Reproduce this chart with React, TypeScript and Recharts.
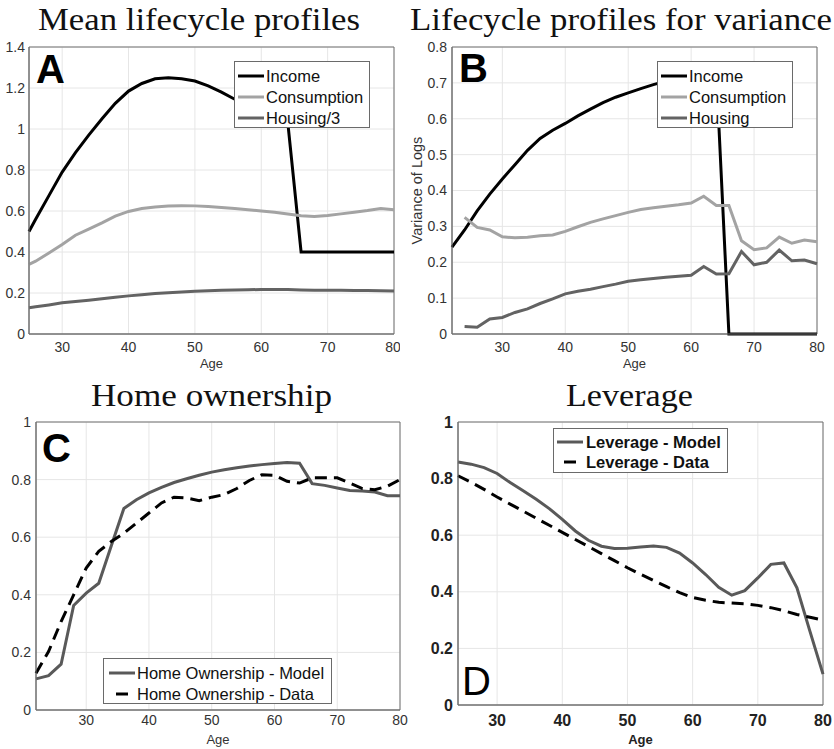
import React from 'react';
import { LineChart, Line, XAxis, YAxis, CartesianGrid, ReferenceArea, Legend } from 'recharts';

// ---------- Panel A: Mean lifecycle profiles ----------
const agesA = [25, 26, 28, 30, 32, 34, 36, 38, 40, 42, 44, 46, 48, 50, 52, 54, 56, 58, 60, 62, 64, 66, 68, 70, 72, 74, 76, 78, 80];
const incomeA = [0.5, 0.56, 0.675, 0.79, 0.885, 0.97, 1.05, 1.125, 1.185, 1.222, 1.245, 1.25, 1.245, 1.234, 1.21, 1.18, 1.145, 1.115, 1.085, 1.055, 1.03, 0.4, 0.4, 0.4, 0.4, 0.4, 0.4, 0.4, 0.4];
const consumptionA = [0.34, 0.355, 0.395, 0.437, 0.482, 0.512, 0.542, 0.575, 0.598, 0.612, 0.62, 0.624, 0.626, 0.625, 0.622, 0.617, 0.612, 0.606, 0.6, 0.594, 0.585, 0.577, 0.573, 0.578, 0.586, 0.594, 0.602, 0.612, 0.606];
const housingA = [0.128, 0.133, 0.142, 0.152, 0.159, 0.165, 0.172, 0.179, 0.186, 0.191, 0.197, 0.201, 0.205, 0.209, 0.211, 0.213, 0.215, 0.216, 0.217, 0.217, 0.217, 0.215, 0.214, 0.214, 0.213, 0.212, 0.212, 0.211, 0.21];
const xTicksA = [30, 40, 50, 60, 70, 80];
const yTicksA = [0, 0.2, 0.4, 0.6, 0.8, 1, 1.2, 1.4];
const legendA = ['Income', 'Consumption', 'Housing/3'];

// ---------- Panel B: Lifecycle profiles for variance ----------
const agesB = [22, 24, 26, 28, 30, 32, 34, 36, 38, 40, 42, 44, 46, 48, 50, 52, 54, 56, 58, 60, 62, 64, 66, 68, 70, 72, 74, 76, 78, 80];
const incomeB = [0.242, 0.29, 0.343, 0.39, 0.432, 0.472, 0.512, 0.545, 0.568, 0.587, 0.608, 0.627, 0.645, 0.66, 0.672, 0.684, 0.695, 0.705, 0.713, 0.72, 0.726, 0.73, 0, 0, 0, 0, 0, 0, 0, 0];
const consumptionB = [null, 0.325, 0.297, 0.29, 0.271, 0.268, 0.27, 0.274, 0.276, 0.286, 0.299, 0.311, 0.321, 0.33, 0.339, 0.347, 0.352, 0.356, 0.36, 0.365, 0.384, 0.358, 0.358, 0.26, 0.235, 0.24, 0.27, 0.253, 0.262, 0.257];
const housingB = [null, 0.021, 0.019, 0.042, 0.046, 0.06, 0.07, 0.085, 0.098, 0.112, 0.119, 0.125, 0.132, 0.139, 0.147, 0.151, 0.155, 0.158, 0.161, 0.164, 0.188, 0.167, 0.168, 0.23, 0.193, 0.2, 0.234, 0.204, 0.206, 0.196];
const xTicksB = [30, 40, 50, 60, 70, 80];
const yTicksB = [0, 0.1, 0.2, 0.3, 0.4, 0.5, 0.6, 0.7, 0.8];
const legendB = ['Income', 'Consumption', 'Housing'];

// ---------- Panel C: Home ownership ----------
const agesC = [22, 24, 26, 28, 30, 32, 34, 36, 38, 40, 42, 44, 46, 48, 50, 52, 54, 56, 58, 60, 62, 64, 66, 68, 70, 72, 74, 76, 78, 80];
const ownModelC = [0.108, 0.119, 0.159, 0.363, 0.406, 0.44, 0.57, 0.7, 0.73, 0.754, 0.773, 0.79, 0.803, 0.815, 0.826, 0.834, 0.841, 0.847, 0.852, 0.856, 0.859, 0.857, 0.786, 0.78, 0.771, 0.762, 0.76, 0.757, 0.744, 0.744];
const ownDataC = [0.128, 0.203, 0.307, 0.4, 0.493, 0.551, 0.585, 0.614, 0.649, 0.684, 0.719, 0.739, 0.736, 0.727, 0.739, 0.748, 0.769, 0.797, 0.817, 0.815, 0.794, 0.788, 0.806, 0.806, 0.806, 0.788, 0.769, 0.765, 0.777, 0.8];
const xTicksC = [30, 40, 50, 60, 70, 80];
const yTicksC = [0, 0.2, 0.4, 0.6, 0.8, 1];
const legendC = ['Home Ownership - Model', 'Home Ownership - Data'];

// ---------- Panel D: Leverage ----------
const agesD = [24, 26, 28, 30, 32, 34, 36, 38, 40, 42, 44, 46, 48, 50, 52, 54, 56, 58, 60, 62, 64, 66, 68, 70, 72, 74, 76, 78, 80];
const levModelD = [0.859, 0.851, 0.839, 0.818, 0.786, 0.757, 0.727, 0.694, 0.656, 0.615, 0.582, 0.561, 0.553, 0.554, 0.558, 0.562, 0.557, 0.537, 0.502, 0.461, 0.416, 0.388, 0.404, 0.449, 0.497, 0.502, 0.414, 0.26, 0.109];
const levDataD = [0.81, 0.787, 0.762, 0.735, 0.71, 0.685, 0.66, 0.635, 0.61, 0.585, 0.56, 0.535, 0.51, 0.485, 0.462, 0.44, 0.418, 0.397, 0.38, 0.37, 0.363, 0.36, 0.358, 0.352, 0.344, 0.333, 0.32, 0.31, 0.3];
const xTicksD = [30, 40, 50, 60, 70, 80];
const yTicksD = [0, 0.2, 0.4, 0.6, 0.8, 1];
const legendD = ['Leverage - Model', 'Leverage - Data'];

const rowsA = agesA.map((age, i) => ({ age, income: incomeA[i], consumption: consumptionA[i], housing: housingA[i] }));
const rowsB = agesB.map((age, i) => ({ age, income: incomeB[i], consumption: consumptionB[i], housing: housingB[i] }));
const rowsC = agesC.map((age, i) => ({ age, model: ownModelC[i], data: ownDataC[i] }));
const rowsD = agesD.map((age, i) => ({ age, model: levModelD[i], data: levDataD[i] }));

// ---------- styles ----------
const SANS = "'Liberation Sans', Arial, Helvetica, sans-serif";
const SERIF = "'Liberation Serif', 'Times New Roman', serif";
const AXIS = '#707070';
const GRID = '#e6e6e6';
const TICK = '#333333';
const C_INCOME = '#000000';
const C_CONS = '#a3a3a3';
const C_HOUS = '#636363';
const C_MODEL = '#595959';
const C_DATA = '#000000';
const LW = 3;
const DASH = '12 7';

const fmt = (v: number) => String(Number(v.toFixed(1)));

type LegendCfg = { order: string[]; w: number; h: number; rowTop: number; rowH: number; sx: number; sw: number; tx: number; bold?: boolean; fs: number };

const makeLegend = (cfg: LegendCfg) => (props: any) => {
  const raw = props.payload || [];
  const payload = cfg.order.map((name) => raw.find((e: any) => e.value === name)).filter(Boolean);
  return (
    <div
      style={{
        position: 'relative',
        width: cfg.w,
        height: cfg.h,
        boxSizing: 'border-box',
        border: '1px solid #6a6a6a',
        background: '#ffffff',
        fontFamily: SANS,
        fontSize: cfg.fs,
        fontWeight: cfg.bold ? 'bold' : 'normal',
        color: '#111',
      }}
    >
      {payload.map((e: any, i: number) => {
        const cy = cfg.rowTop + i * cfg.rowH;
        const dashed = e.payload && e.payload.strokeDasharray;
        return (
          <div key={i} style={{ position: 'absolute', left: 0, top: cy - 12, height: 24, width: cfg.w - 2 }}>
            <svg width={cfg.sx + cfg.sw + 2} height={24} style={{ position: 'absolute', left: 0, top: 0 }}>
              <line
                x1={cfg.sx}
                x2={cfg.sx + cfg.sw}
                y1={12}
                y2={12}
                stroke={e.color}
                strokeWidth={LW}
                strokeDasharray={dashed ? DASH : undefined}
                strokeDashoffset={dashed ? 12 : undefined}
              />
            </svg>
            <span style={{ position: 'absolute', left: cfg.tx, top: 0, lineHeight: '24px', whiteSpace: 'nowrap' }}>{e.value}</span>
          </div>
        );
      })}
    </div>
  );
};

const tickStyle = { fill: TICK, fontSize: 14, fontFamily: SANS };
const tickStyleBold = { fill: '#222', fontSize: 16, fontFamily: SANS, fontWeight: 'bold' };

export default function App() {
  return (
    <div style={{ position: 'absolute', left: 0, top: 0, width: 834, height: 749, background: '#fff', overflow: 'hidden' }}>
      {/* Panel A */}
      <div style={{ position: 'absolute', left: 0, top: 0 }}>
        <LineChart width={400} height={375} data={rowsA} margin={{ top: 47, right: 6, bottom: 5, left: 0 }}>
          <CartesianGrid stroke={GRID} />
          <XAxis type="number" dataKey="age" domain={[25, 80]} ticks={xTicksA} tickLine={false} tickSize={0} tickMargin={8} height={36} stroke={AXIS} tick={tickStyle}
            label={{ value: 'Age', position: 'insideBottom', offset: 2, fill: TICK, fontSize: 13, fontFamily: SANS }} />
          <YAxis type="number" domain={[0, 1.4]} ticks={yTicksA} tickFormatter={fmt} tickLine={false} tickSize={0} tickMargin={4} width={29} stroke={AXIS} tick={tickStyle} />
          <ReferenceArea x1={25} x2={80} y1={0} y2={1.4} fill="none" stroke={AXIS} strokeWidth={1} />
          <Line type="linear" dataKey="income" name="Income" stroke={C_INCOME} strokeWidth={LW} dot={false} activeDot={false} isAnimationActive={false} />
          <Line type="linear" dataKey="consumption" name="Consumption" stroke={C_CONS} strokeWidth={LW} dot={false} activeDot={false} isAnimationActive={false} />
          <Line type="linear" dataKey="housing" name="Housing/3" stroke={C_HOUS} strokeWidth={LW} dot={false} activeDot={false} isAnimationActive={false} />
          <Legend layout="horizontal" verticalAlign="middle" align="center" wrapperStyle={{ left: 234, top: 61, width: 'auto', height: 'auto' }}
            content={makeLegend({ order: legendA, w: 136, h: 67, rowTop: 14, rowH: 21, sx: 3, sw: 26, tx: 31, fs: 16.5 })} />
        </LineChart>
      </div>

      {/* Panel B */}
      <div style={{ position: 'absolute', left: 400, top: 0 }}>
        <LineChart width={434} height={375} data={rowsB} margin={{ top: 47, right: 17, bottom: 5, left: 0 }}>
          <CartesianGrid stroke={GRID} />
          <XAxis type="number" dataKey="age" domain={[22, 80]} ticks={xTicksB} tickLine={false} tickSize={0} tickMargin={8} height={36} stroke={AXIS} tick={tickStyle}
            label={{ value: 'Age', position: 'insideBottom', offset: 2, fill: TICK, fontSize: 13, fontFamily: SANS }} />
          <YAxis type="number" domain={[0, 0.8]} ticks={yTicksB} tickFormatter={fmt} tickLine={false} tickSize={0} tickMargin={5} width={52} stroke={AXIS} tick={tickStyle}
            label={{ value: 'Variance of Logs', angle: -90, position: 'insideLeft', offset: 17, fill: TICK, fontSize: 14.5, fontFamily: SANS, style: { textAnchor: 'middle' } }} />
          <ReferenceArea x1={22} x2={80} y1={0} y2={0.8} fill="none" stroke={AXIS} strokeWidth={1} />
          <Line type="linear" dataKey="income" name="Income" stroke={C_INCOME} strokeWidth={LW} dot={false} activeDot={false} isAnimationActive={false} />
          <Line type="linear" dataKey="consumption" name="Consumption" stroke={C_CONS} strokeWidth={LW} dot={false} activeDot={false} isAnimationActive={false} />
          <Line type="linear" dataKey="housing" name="Housing" stroke={C_HOUS} strokeWidth={LW} dot={false} activeDot={false} isAnimationActive={false} />
          <Legend layout="horizontal" verticalAlign="middle" align="center" wrapperStyle={{ left: 257, top: 61, width: 'auto', height: 'auto' }}
            content={makeLegend({ order: legendB, w: 136, h: 67, rowTop: 14, rowH: 21, sx: 3, sw: 26, tx: 31, fs: 16.5 })} />
        </LineChart>
      </div>

      {/* Panel C */}
      <div style={{ position: 'absolute', left: 0, top: 375 }}>
        <LineChart width={420} height={374} data={rowsC} margin={{ top: 47, right: 20, bottom: 3, left: 0 }}>
          <CartesianGrid stroke={GRID} />
          <XAxis type="number" dataKey="age" domain={[22, 80]} ticks={xTicksC} tickLine={false} tickSize={0} tickMargin={5} height={36} stroke={AXIS} tick={tickStyle}
            label={{ value: 'Age', position: 'insideBottom', offset: 2, fill: TICK, fontSize: 13, fontFamily: SANS }} />
          <YAxis type="number" domain={[0, 1]} ticks={yTicksC} tickFormatter={fmt} tickLine={false} tickSize={0} tickMargin={5} width={36} stroke={AXIS} tick={tickStyle} />
          <ReferenceArea x1={22} x2={80} y1={0} y2={1} fill="none" stroke={AXIS} strokeWidth={1} />
          <Line type="linear" dataKey="model" name="Home Ownership - Model" stroke={C_MODEL} strokeWidth={LW} dot={false} activeDot={false} isAnimationActive={false} />
          <Line type="linear" dataKey="data" name="Home Ownership - Data" stroke={C_DATA} strokeWidth={LW} strokeDasharray={DASH} dot={false} activeDot={false} isAnimationActive={false} />
          <Legend layout="horizontal" verticalAlign="middle" align="center" wrapperStyle={{ left: 103, top: 283, width: 'auto', height: 'auto' }}
            content={makeLegend({ order: legendC, w: 229, h: 46, rowTop: 14, rowH: 21, sx: 5, sw: 26, tx: 33, fs: 16.5 })} />
        </LineChart>
      </div>

      {/* Panel D */}
      <div style={{ position: 'absolute', left: 400, top: 375 }}>
        <LineChart width={434} height={374} data={rowsD} margin={{ top: 47, right: 11, bottom: 4, left: 0 }}>
          <CartesianGrid stroke={GRID} />
          <XAxis type="number" dataKey="age" domain={[24, 80]} ticks={xTicksD} tickLine={false} tickSize={0} tickMargin={10} height={40} stroke={AXIS} tick={tickStyleBold}
            label={{ value: 'Age', position: 'insideBottom', offset: 1, fill: '#222', fontSize: 13, fontWeight: 'bold', fontFamily: SANS }} />
          <YAxis type="number" domain={[0, 1]} ticks={yTicksD} tickFormatter={fmt} tickLine={false} tickSize={0} tickMargin={5} width={58} stroke={AXIS} tick={tickStyleBold} />
          <ReferenceArea x1={24} x2={80} y1={0} y2={1} fill="none" stroke={AXIS} strokeWidth={1} />
          <Line type="linear" dataKey="model" name="Leverage - Model" stroke={C_MODEL} strokeWidth={LW} dot={false} activeDot={false} isAnimationActive={false} />
          <Line type="linear" dataKey="data" name="Leverage - Data" stroke={C_DATA} strokeWidth={LW} strokeDasharray={DASH} dot={false} activeDot={false} isAnimationActive={false} />
          <Legend layout="horizontal" verticalAlign="middle" align="center" wrapperStyle={{ left: 153, top: 53, width: 'auto', height: 'auto' }}
            content={makeLegend({ order: legendD, w: 175, h: 45, rowTop: 13, rowH: 20, sx: 3, sw: 26, tx: 32, fs: 16.5, bold: true })} />
        </LineChart>
      </div>

      {/* Titles and panel letters */}
      <svg width={834} height={749} style={{ position: 'absolute', left: 0, top: 0, pointerEvents: 'none' }}>
        <g fontFamily={SERIF} fontSize={31} fill="#111">
          <text x={38} y={30} textLength={322} lengthAdjust="spacingAndGlyphs">Mean lifecycle profiles</text>
          <text x={410} y={30} textLength={422} lengthAdjust="spacingAndGlyphs">Lifecycle profiles for variance</text>
          <text x={91} y={406} textLength={241} lengthAdjust="spacingAndGlyphs">Home ownership</text>
          <text x={566} y={406} textLength={127} lengthAdjust="spacingAndGlyphs">Leverage</text>
        </g>
        <g fontFamily={SANS} fontSize={40} fill="#000">
          <text x={36} y={83} fontWeight="bold">A</text>
          <text x={459} y={82} fontWeight="bold">B</text>
          <text x={42} y={462} fontWeight="bold">C</text>
          <text x={462} y={695}>D</text>
        </g>
      </svg>
    </div>
  );
}
